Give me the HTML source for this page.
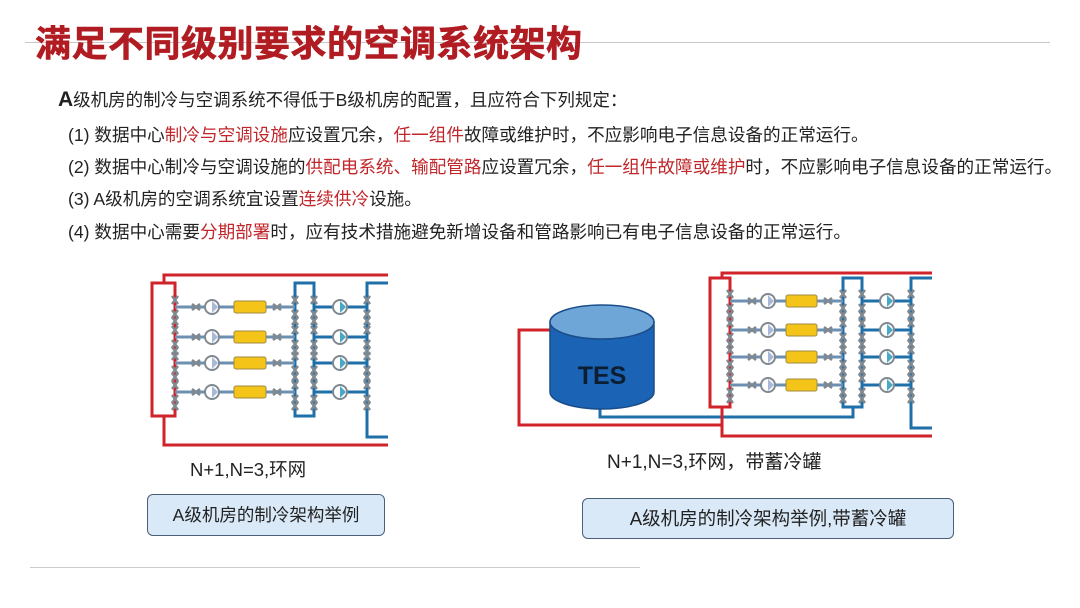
<!DOCTYPE html>
<html><head><meta charset="utf-8"><style>
body{margin:0;width:1080px;height:608px;background:#fff;overflow:hidden;position:relative;font-family:"Liberation Sans","Noto Sans CJK SC",sans-serif;}
.t{position:absolute;white-space:nowrap;}
.r{color:#c0262a;}
</style></head><body>
<div style="position:absolute;left:25px;top:42px;width:1025px;height:1px;background:#c8c8c8"></div>
<div class="t" style="left:35px;top:15px;font-size:36px;font-weight:bold;color:#b01c22;letter-spacing:0.5px;-webkit-text-stroke:0.6px #b01c22">满足不同级别要求的空调系统架构</div>
<div class="t" style="left:58px;top:87px;font-size:17.5px;color:#222"><b style="font-size:21px">A</b>级机房的制冷与空调系统不得低于B级机房的配置，且应符合下列规定：</div>
<div class="t" style="left:68px;top:122px;font-size:17.6px;color:#222">(1) 数据中心<span class="r">制冷与空调设施</span>应设置冗余，<span class="r">任一组件</span>故障或维护时，不应影响电子信息设备的正常运行。</div>
<div class="t" style="left:68px;top:154px;font-size:17.6px;color:#222">(2) 数据中心制冷与空调设施的<span class="r">供配电系统、输配管路</span>应设置冗余，<span class="r">任一组件故障或维护</span>时，不应影响电子信息设备的正常运行。</div>
<div class="t" style="left:68px;top:186px;font-size:17.6px;color:#222">(3) A级机房的空调系统宜设置<span class="r">连续供冷</span>设施。</div>
<div class="t" style="left:68px;top:219px;font-size:17.6px;color:#222">(4) 数据中心需要<span class="r">分期部署</span>时，应有技术措施避免新增设备和管路影响已有电子信息设备的正常运行。</div>

<svg id="s" width="1080" height="608" style="position:absolute;left:0;top:0"></svg>

<div class="t" style="left:190px;top:456px;font-size:18.5px;color:#222">N+1,N=3,环网</div>
<div class="t" style="left:607px;top:447px;font-size:19px;color:#222">N+1,N=3,环网，带蓄冷罐</div>
<div style="position:absolute;left:147px;top:494px;width:236px;height:40px;border:1.5px solid #4a5f78;border-radius:6px;background:#d9e9f8;font-size:17.5px;color:#222;text-align:center;line-height:40px">A级机房的制冷架构举例</div>
<div style="position:absolute;left:582px;top:498px;width:370px;height:39px;border:1.5px solid #4a5f78;border-radius:6px;background:#d9e9f8;font-size:18.5px;color:#222;text-align:center;line-height:39px">A级机房的制冷架构举例,带蓄冷罐</div>
<div style="position:absolute;left:30px;top:567px;width:610px;height:1px;background:#ccc"></div>

<script>
const s=document.getElementById('s');const NS='http://www.w3.org/2000/svg';
function e(t,a){const n=document.createElementNS(NS,t);for(const k in a)n.setAttribute(k,a[k]);s.appendChild(n);return n;}
const R='#d0232a',B='#1f6fa8',G='#808890';
function valveV(x,y){e('path',{d:`M${x-3} ${y-4}L${x+3} ${y+4}M${x+3} ${y-4}L${x-3} ${y+4}`,stroke:G,'stroke-width':2.5});}
function valveH(x,y){e('path',{d:`M${x-4} ${y-3}L${x+4} ${y+3}M${x-4} ${y+3}L${x+4} ${y-3}`,stroke:G,'stroke-width':2.5});}
function pump(x,y,c){e('circle',{cx:x,cy:y,r:7,fill:'#fff',stroke:G,'stroke-width':2});e('path',{d:`M${x} ${y-6}L${x+6} ${y}L${x} ${y+6}Z`,fill:c});}
function diagram(o){
 const {lx0,lx1,top,bot,ty,by,hb0,hb1,vr,rows,xEnd,vb,p1,y0,y1,p2}=o;
 e('path',{d:`M${xEnd} ${ty}H${lx0+12}V${top}M${lx0+12} ${bot}V${by}H${xEnd}`,stroke:R,'stroke-width':3,fill:'none'});
 e('rect',{x:lx0,y:top,width:lx1-lx0,height:bot-top,fill:'none',stroke:R,'stroke-width':3});
 e('rect',{x:hb0,y:top,width:hb1-hb0,height:bot-top,fill:'none',stroke:B,'stroke-width':3});
 e('path',{d:`M${xEnd} ${top}H${vr}V${vb}H${xEnd}`,stroke:B,'stroke-width':3,fill:'none'});
 rows.forEach(y=>{
  e('line',{x1:lx1,y1:y,x2:hb0,y2:y,stroke:'#6d8fb0','stroke-width':3});
  e('line',{x1:hb1,y1:y,x2:vr,y2:y,stroke:B,'stroke-width':3});
  valveH(p1-16,y);pump(p1,y,'#a8b8d8');
  e('rect',{x:y0,y:y-6,width:y1-y0,height:12,rx:2,fill:'#f4c518',stroke:'#a08a40','stroke-width':1});
  valveH(y1+11,y);pump(p2,y,'#48a8c8');
 });
 for(let i=0;i<rows.length;i++){
  const ys=[rows[i]-7,rows[i]+7, rows[i]+14];
  [lx1,hb0,hb1,vr].forEach(x=>{ys.forEach(yy=>{if(yy<bot-3)valveV(x,yy)})});
 }
}
diagram({lx0:152,lx1:175,top:283,bot:416,ty:275,by:445,hb0:295,hb1:314,vr:367,vb:437,xEnd:388,rows:[307,337,363,392],p1:212,y0:234,y1:266,p2:340});
e('path',{d:`M550 330H519V425H722`,stroke:R,'stroke-width':3,fill:'none'});
e('path',{d:`M600 395V417H853V407`,stroke:B,'stroke-width':3,fill:'none'});
diagram({lx0:710,lx1:730,top:278,bot:407,ty:273,by:436,hb0:843,hb1:862,vr:911,vb:428,xEnd:932,rows:[301,330,357,385],p1:768,y0:786,y1:817,p2:887});
e('path',{d:'M550 322V392A52 17 0 0 0 654 392V322Z',fill:'#1b63b5',stroke:'#1a4d8a','stroke-width':1.5});
e('ellipse',{cx:602,cy:322,rx:52,ry:17,fill:'#6ea6d8',stroke:'#1a4d8a','stroke-width':1.5});
const t=e('text',{x:602,y:384,'text-anchor':'middle','font-size':25,'font-weight':'bold',fill:'#0d1e33','font-family':'Liberation Sans'});t.textContent='TES';
</script>
</body></html>
